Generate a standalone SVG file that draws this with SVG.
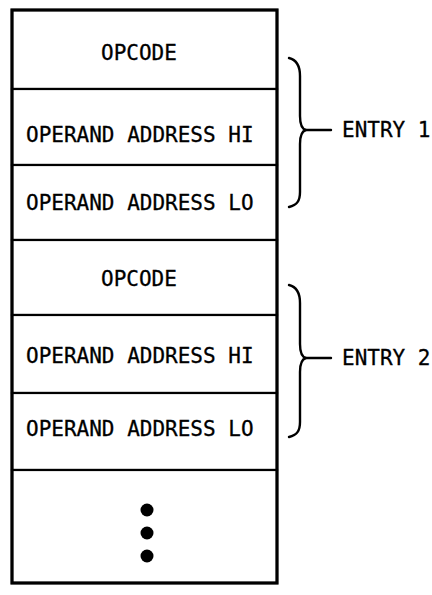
<svg xmlns="http://www.w3.org/2000/svg" width="432" height="595" viewBox="0 0 432 595">
<style>
.cell{fill:#fff;stroke:#000;stroke-width:2.2}
.t{font-family:"DejaVu Sans Mono","Liberation Mono",monospace;font-size:21px;fill:#000;stroke:#000;stroke-width:0.3}
.br{fill:none;stroke:#000;stroke-width:2.4;stroke-linecap:round}
</style>
<rect x="0" y="0" width="432" height="595" fill="#fff"/>
<g id="row1"><rect class="cell" x="12" y="10" width="265" height="79"/><text class="t" x="101" y="60">OPCODE</text></g>
<g id="row2"><rect class="cell" x="12" y="89" width="265" height="76"/><text class="t" x="26" y="142">OPERAND ADDRESS HI</text></g>
<g id="row3"><rect class="cell" x="12" y="165" width="265" height="75"/><text class="t" x="26" y="210">OPERAND ADDRESS LO</text></g>
<g id="row4"><rect class="cell" x="12" y="240" width="265" height="75"/><text class="t" x="101" y="286">OPCODE</text></g>
<g id="row5"><rect class="cell" x="12" y="315" width="265" height="78"/><text class="t" x="26" y="363">OPERAND ADDRESS HI</text></g>
<g id="row6"><rect class="cell" x="12" y="393" width="265" height="77"/><text class="t" x="26" y="436">OPERAND ADDRESS LO</text></g>
<g id="row7"><rect class="cell" x="12" y="470" width="265" height="113"/>
<circle cx="147" cy="510" r="6.5"/><circle cx="147" cy="533" r="6.5"/><circle cx="147" cy="556" r="6.5"/></g>
<rect x="12" y="10" width="265" height="573" fill="none" stroke="#000" stroke-width="3.2"/>
<g id="connectors">
<path class="br" d="M289,58 C297,60 300,66 300,76 L300,116 C300,124 302,129 306,130 C302,131 300,136 300,144 L300,192 C300,201 297,205 289,207"/>
<line class="br" x1="306" y1="130" x2="331" y2="130"/>
<path class="br" d="M289,285 C297,287 300,293 300,303 L300,344 C300,352 302,357 306,358 C302,359 300,364 300,372 L300,422 C300,431 297,435 289,437"/>
<line class="br" x1="306" y1="358" x2="331" y2="358"/>
</g>
<g id="entry1"><text class="t" x="342" y="137">ENTRY 1</text></g>
<g id="entry2"><text class="t" x="342" y="365">ENTRY 2</text></g>
</svg>
